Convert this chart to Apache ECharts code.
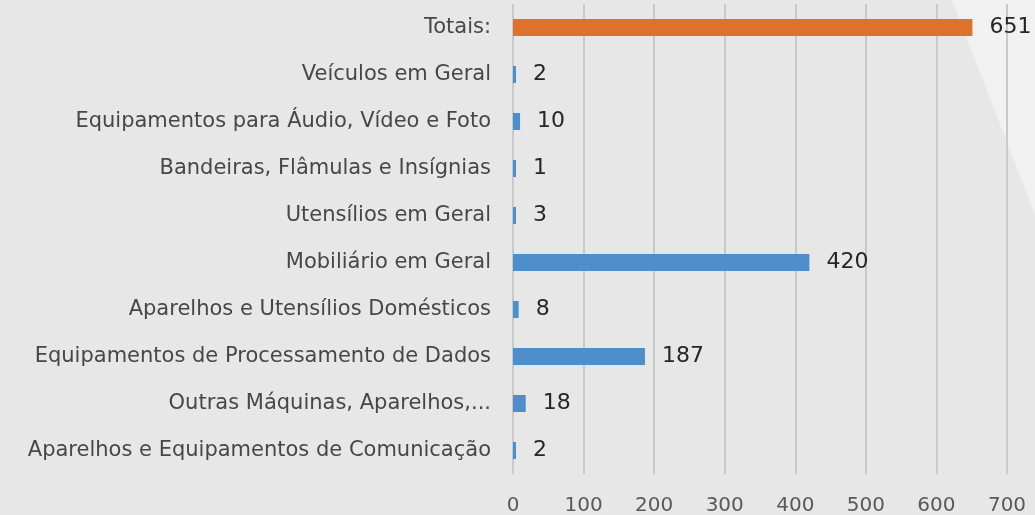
<!DOCTYPE html>
<html>
<head>
<meta charset="utf-8">
<script src="https://cdn.jsdelivr.net/npm/echarts@6/dist/echarts.min.js"></script>
<style>
  html, body { margin: 0; padding: 0; background: #e7e7e7; }
  #chart { width: 1035px; height: 515px; }
</style>
</head>
<body>
<div id="chart"></div>
<script>
  // categorias de cima para baixo
  var categorias = [
    'Totais:',
    'Veículos em Geral',
    'Equipamentos para Áudio, Vídeo e Foto',
    'Bandeiras, Flâmulas e Insígnias',
    'Utensílios em Geral',
    'Mobiliário em Geral',
    'Aparelhos e Utensílios Domésticos',
    'Equipamentos de Processamento de Dados',
    'Outras Máquinas, Aparelhos,...',
    'Aparelhos e Equipamentos de Comunicação'
  ];
  var quantidades = [651, 2, 10, 1, 3, 420, 8, 187, 18, 2];
  var eixoX = [0, 100, 200, 300, 400, 500, 600, 700];

  var fonte = 'DejaVu Sans';
  var chart = echarts.init(document.getElementById('chart'));

  chart.setOption({
    backgroundColor: '#e7e7e7',
    animation: false,
    graphic: [{
      type: 'polygon',
      z: -1,
      shape: { points: [[952, 0], [1035, 0], [1035, 215]] },
      style: { fill: '#f1f1f1' }
    }],
    grid: { left: 513, right: 28, top: 4, bottom: 41, outerBoundsMode: 'none' },
    xAxis: {
      type: 'value',
      min: eixoX[0],
      max: eixoX[eixoX.length - 1],
      interval: 100,
      axisLine: { show: false },
      axisTick: { show: false },
      axisLabel: {
        color: '#595959',
        fontFamily: fonte,
        fontSize: 20,
        margin: 22
      },
      splitLine: { lineStyle: { color: '#c9c9c9', width: 2 } }
    },
    yAxis: {
      type: 'category',
      inverse: true,
      data: categorias,
      axisLine: { show: false },
      axisTick: { show: false },
      axisLabel: {
        color: '#474747',
        fontFamily: fonte,
        fontSize: 21,
        margin: 22
      }
    },
    series: [{
      type: 'bar',
      barWidth: 17,
      barMinHeight: 3,
      data: quantidades.map(function (v, i) {
        return {
          value: v,
          itemStyle: { color: categorias[i] === 'Totais:' ? '#dc722e' : '#4e8ecb' }
        };
      }),
      label: {
        show: true,
        position: 'right',
        distance: 17,
        color: '#262626',
        fontFamily: fonte,
        fontSize: 22
      }
    }]
  });
</script>
</body>
</html>
